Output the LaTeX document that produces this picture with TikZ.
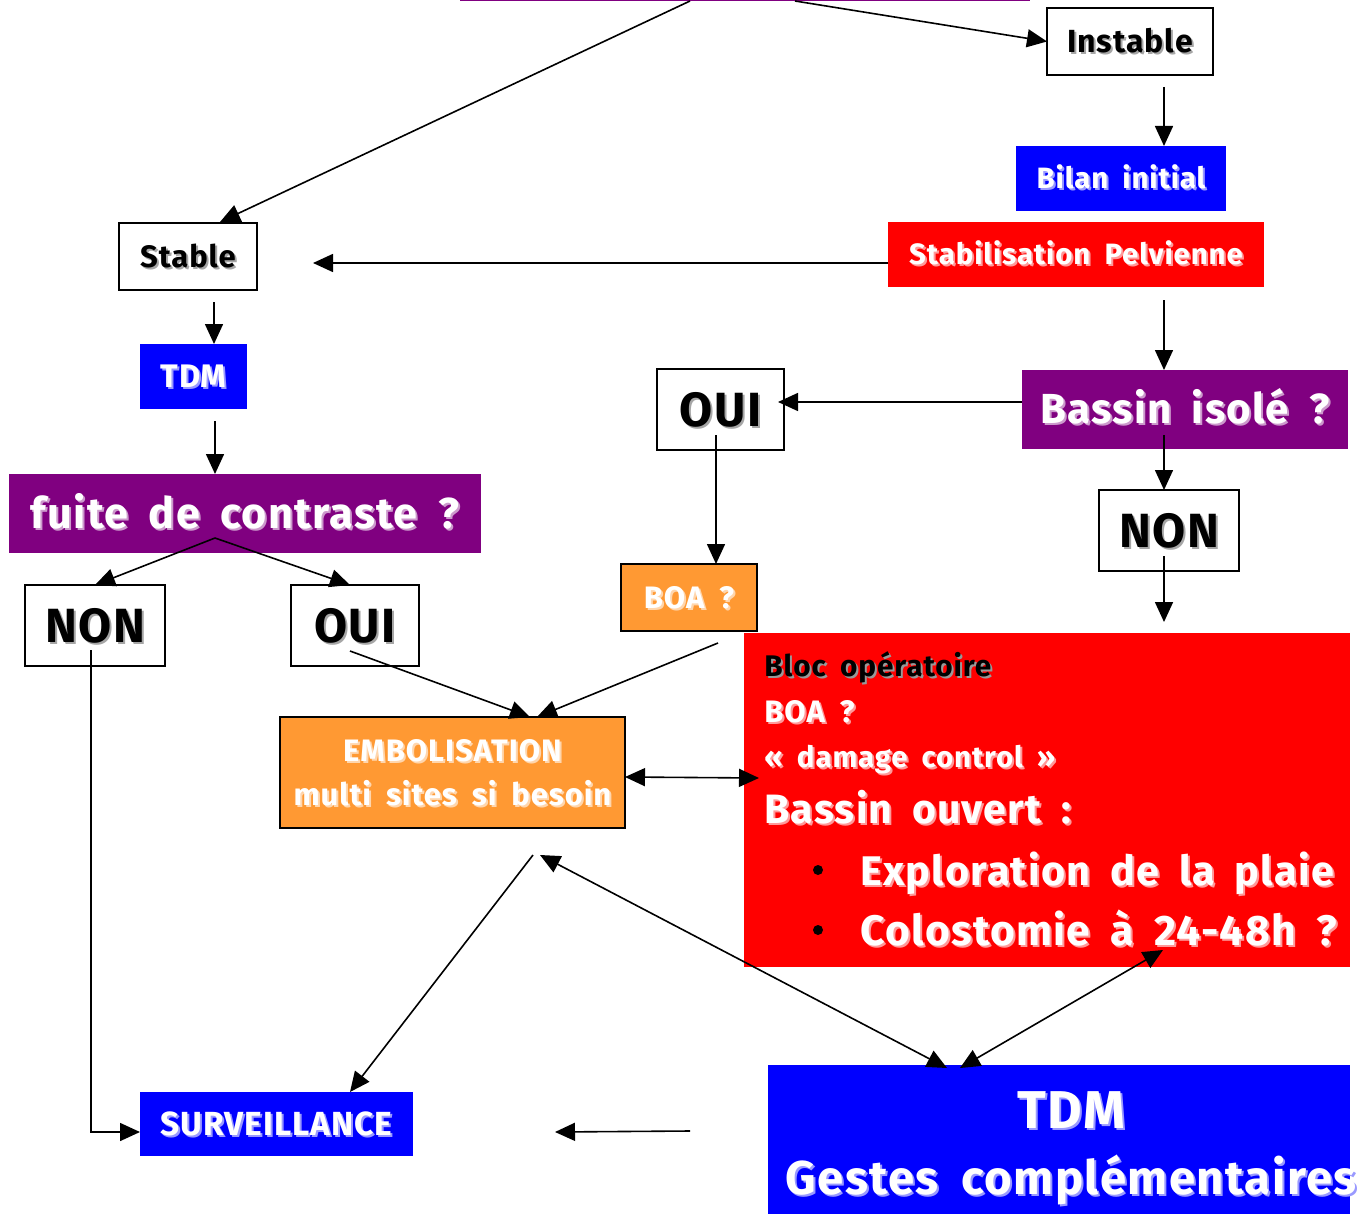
\documentclass[tikz,border=0pt]{standalone}
\usepackage{fontspec}
\setmainfont{Fira Sans}[LetterSpace=3, WordSpace=1.8]
\usetikzlibrary{arrows.meta}
\definecolor{purp}{HTML}{800080}
\definecolor{blu}{HTML}{0000FF}
\definecolor{rd}{HTML}{FF0000}
\definecolor{org}{HTML}{FF9933}
\newcommand\sdw[2]{\leavevmode\rlap{\kern1pt\raisebox{-1pt}{\textcolor{#1}{#2}}}#2}
\newcommand\bx[7]{\node[#6, minimum width={(#4-#2)*0.5pt}, minimum height={(#5-#3)*0.5pt}] (#1) at ({(#2+#4)/2},{(#3+#5)/2}) {#7};}
\tikzset{
  base/.style={inner sep=0pt, outer sep=0pt, align=center},
  wbox/.style={base, draw=black, line width=0.8pt, fill=white, text=black},
  fbox/.style={base, fill=#1, text=white},
  obox/.style={base, draw=black, line width=0.8pt, fill=org, text=white},
  fz/.style={font=\bfseries\fontsize{#1}{#1}\selectfont, text height={#1*0.689pt}, text depth=0pt},
  arr/.style={-{Triangle[length=10pt,width=9pt]}, line width=0.8pt},
  darr/.style={{Triangle[length=10pt,width=9pt]}-{Triangle[length=10pt,width=9pt]}, line width=0.8pt},
  bl/.style={anchor=base west, inner sep=0pt, text=white},
}
\begin{document}
\begin{tikzpicture}[x=0.5pt,y=-0.5pt]
\useasboundingbox (0,0) rectangle (1359,1214);
\clip (0,0) rectangle (1359,1214);
% boxes
\bx{top}{460}{-60}{1030}{1}{fbox=purp}{}
\bx{instable}{1047}{8}{1213}{75}{wbox,fz=16}{\sdw{black!35}{Instable}}
\bx{bilan}{1016}{146}{1226}{211}{fbox=blu,fz=14.7}{\sdw{blu!40!white}{Bilan initial}}
\bx{stabil}{888}{222}{1264}{287}{fbox=rd,fz=14.7}{\sdw{rd!40!white}{Stabilisation Pelvienne}}
\bx{stable}{119}{223}{257}{290}{wbox,fz=15.5}{\sdw{black!35}{Stable}}
\bx{tdma}{140}{344}{247}{409}{fbox=blu,fz=16.3}{\sdw{blu!40!white}{TDM}}
\bx{fuite}{9}{474}{481}{553}{fbox=purp,fz=21.6}{\sdw{purp!40!white}{fuite de contraste ?}}
\bx{nona}{25}{585}{165}{666}{wbox,fz=24}{\sdw{black!35}{NON}}
\bx{ouia}{291}{585}{419}{666}{wbox,fz=24}{\sdw{black!35}{OUI}}
\bx{bassin}{1022}{370}{1348}{449}{fbox=purp,fz=21}{\sdw{purp!40!white}{Bassin isolé ?}}
\bx{ouib}{657}{369}{784}{450}{wbox,fz=24}{\sdw{black!35}{OUI}}
\bx{nonb}{1099}{490}{1239}{571}{wbox,fz=24}{\sdw{black!35}{NON}}
\bx{boa}{621}{564}{757}{631}{obox,fz=15.5}{\sdw{org!40!white}{BOA ?}}
\bx{embol}{280}{717}{625}{828}{obox,font=\bfseries\fontsize{15.5}{22}\selectfont,text height=32.7pt,text depth=0pt}{\sdw{org!40!white}{EMBOLISATION}\\\sdw{org!40!white}{multi sites si besoin}}
\bx{bloc}{744}{633}{1350}{967}{fbox=rd}{}
\bx{surv}{140}{1092}{413}{1156}{fbox=blu,fz=16.7}{\sdw{blu!40!white}{SURVEILLANCE}}
\bx{tdmb}{768}{1065}{1350}{1240}{fbox=blu}{}
% texts of the red box
\node[bl, text=black, font=\bfseries\fontsize{14.9}{18}\selectfont] (l1) at (764,676) {\sdw{black!40}{Bloc opératoire}};
\node[bl, font=\bfseries\fontsize{15.5}{18}\selectfont] (l2) at (764,722) {\sdw{rd!40!white}{BOA ?}};
\node[bl, font=\bfseries\fontsize{14.7}{18}\selectfont] (l3) at (764,767) {\sdw{rd!40!white}{« damage control »}};
\node[bl, font=\bfseries\fontsize{20.5}{25}\selectfont] (l4) at (764,823) {\sdw{rd!40!white}{Bassin ouvert :}};
\fill[black] (818,870) circle (5);
\fill[black] (818,930) circle (5);
\node[bl, font=\bfseries\fontsize{20.7}{26}\selectfont] (l5) at (860,885) {\sdw{rd!40!white}{Exploration de la plaie}};
\node[bl, font=\bfseries\fontsize{21.3}{26}\selectfont] (l6) at (860,945) {\sdw{rd!40!white}{Colostomie à 24-48h ?}};
% texts of the blue box
\node[base, text=white, font=\bfseries\fontsize{23.7}{33}\selectfont, text height=51.3pt, text depth=0pt] (tdmbt) at (1071,1143) {\sdw{blu!40!white}{\fontsize{26.6}{33}\selectfont TDM}\\\sdw{blu!40!white}{Gestes complémentaires}};
% coordinates
\coordinate (a1) at (690,1); \coordinate (a2) at (220,222);
\coordinate (b1) at (795,1);
\coordinate (c1) at (1164,87);
\coordinate (d2) at (313,263);
\coordinate (e1) at (1164,300);
\coordinate (f1) at (214,302);
\coordinate (g1) at (215,421);
\coordinate (h0) at (215,538); \coordinate (h1) at (95,585); \coordinate (h2) at (350,585);
\coordinate (i1) at (91,650); \coordinate (i2) at (140,1132);
\coordinate (j1) at (350,651); \coordinate (j2) at (530,717);
\coordinate (k1) at (718,643); \coordinate (k2) at (537,717);
\coordinate (l0) at (625,777); \coordinate (lz) at (759,778);
\coordinate (m2) at (778,402);
\coordinate (n1) at (716,435);
\coordinate (o1) at (1164,435);
\coordinate (p1) at (1164,556); \coordinate (p2) at (1164,622);
\coordinate (q1) at (533,855); \coordinate (q2) at (350,1092);
\coordinate (r1) at (540,855); \coordinate (r2) at (947,1068);
\coordinate (s1) at (960,1068); \coordinate (s2) at (1163,950);
\coordinate (u1) at (690,1131); \coordinate (u2) at (555,1132);
% connectors
\draw[arr] (a1) -- (a2);
\draw[arr] (b1) -- (instable.west);
\draw[arr] (c1) -- (c1 |- bilan.north);
\draw[arr] (d2 -| stabil.west) -- (d2);
\draw[arr] (e1) -- (e1 |- bassin.north);
\draw[arr] (f1) -- (f1 |- tdma.north);
\draw[arr] (g1) -- (g1 |- fuite.north);
\draw[arr] (h0) -- (h1);
\draw[arr] (h0) -- (h2);
\draw[arr] (i1) |- (i2);
\draw[arr] (j1) -- (j2);
\draw[arr] (k1) -- (k2);
\draw[darr] (l0) -- (lz);
\draw[arr] (m2 -| bassin.west) -- (m2);
\draw[arr] (n1) -- (n1 |- boa.north);
\draw[arr] (o1) -- (o1 |- nonb.north);
\draw[arr] (p1) -- (p2);
\draw[arr] (q1) -- (q2);
\draw[darr] (r1) -- (r2);
\draw[darr] (s1) -- (s2);
\draw[arr] (u1) -- (u2);
\end{tikzpicture}
\end{document}
